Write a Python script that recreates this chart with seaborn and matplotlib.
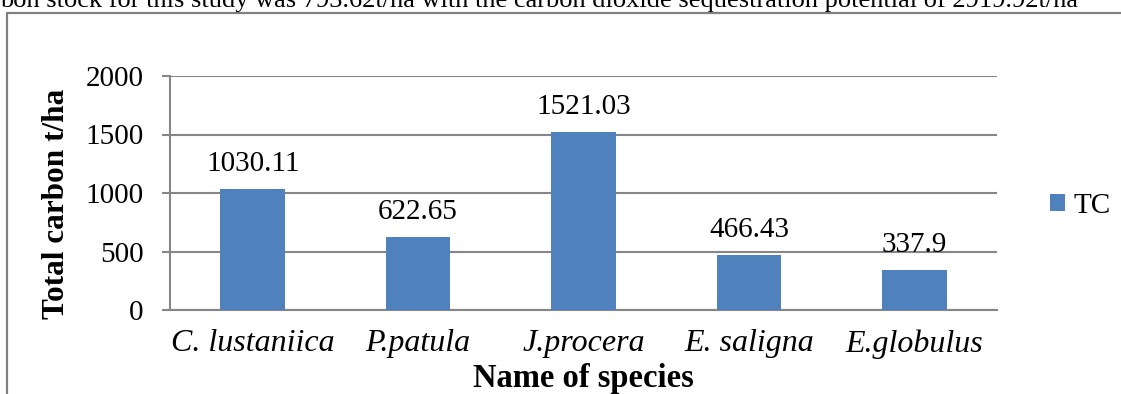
import matplotlib
matplotlib.use("Agg")
import matplotlib.pyplot as plt
from matplotlib.lines import Line2D
import seaborn as sns
import pandas as pd

species = ["C. lustaniica", "P.patula", "J.procera", "E. saligna", "E.globulus"]
tc_values = [1030.11, 622.65, 1521.03, 466.43, 337.9]
value_labels = ["1030.11", "622.65", "1521.03", "466.43", "337.9"]
y_ticks = [0, 500, 1000, 1500, 2000]

sns.set_style("white")
plt.rcParams["font.family"] = ["Liberation Serif", "DejaVu Serif"]
plt.rcParams["text.color"] = "black"
plt.rcParams["axes.labelcolor"] = "black"
plt.rcParams["xtick.color"] = "black"
plt.rcParams["ytick.color"] = "black"

W, H = 1121, 394
fig = plt.figure(figsize=(W / 100, H / 100), dpi=100)
ax = fig.add_axes([170 / W, (H - 310) / H, (997 - 170) / W, 234 / H])

df = pd.DataFrame({"species": species, "TC": tc_values})
sns.barplot(data=df, x="species", y="TC", color="#4F81BD", saturation=1,
            width=0.39, label="TC", ax=ax, zorder=3, linewidth=0)

grey = "#868686"
ax.set_ylim(0, 2000)
ax.set_yticks(y_ticks)
ax.set_yticklabels([str(t) for t in y_ticks], fontsize=21)
ax.yaxis.grid(True, color=grey, linewidth=1.5, zorder=0)
ax.set_axisbelow(True)
for s in ["top", "right"]:
    ax.spines[s].set_visible(False)
ax.spines["left"].set_color(grey)
ax.spines["left"].set_linewidth(1.5)
ax.spines["bottom"].set_color(grey)
ax.spines["bottom"].set_linewidth(1.5)
ax.tick_params(axis="y", which="major", left=True, length=6, width=1.5,
               color=grey, labelcolor="black", pad=13, labelsize=21)
ax.tick_params(axis="x", length=0, pad=14, labelcolor="black")
for lbl in ax.get_xticklabels():
    lbl.set_fontstyle("italic")
    lbl.set_fontsize(23)

for i, (v, t) in enumerate(zip(tc_values, value_labels)):
    ax.annotate(t, (i, v), xytext=(0, 13), textcoords="offset points",
                ha="center", va="baseline", fontsize=21, color="black")

ax.set_xlabel("Name of species", fontsize=23.5, fontweight="bold", labelpad=3,
              color="black")
ax.set_ylabel("Total carbon t/ha", fontsize=22.5, fontweight="bold", color="black")
ax.yaxis.set_label_coords(-0.12, 0.453)

ax.legend(loc="center left", bbox_to_anchor=(1050 / W, 1 - 206 / H),
          bbox_transform=fig.transFigure, frameon=False, fontsize=21,
          handlelength=0.52, handleheight=0.52, handletextpad=0.3,
          borderpad=0, borderaxespad=0)

# frame lines of the figure box
fig.add_artist(Line2D([7 / W, 7 / W], [0, 1 - 12.5 / H], transform=fig.transFigure,
                      color="#808080", linewidth=1.6))
fig.add_artist(Line2D([7 / W, 1], [1 - 12.5 / H, 1 - 12.5 / H], transform=fig.transFigure,
                      color="#808080", linewidth=1.6))

fig.text(0, 1 - 7 / H,
         "bon stock for this study was 793.62t/ha with the carbon dioxide sequestration potential of 2919.92t/ha",
         ha="left", va="baseline", fontsize=19, color="black")

fig.savefig("out.png", dpi=100)
